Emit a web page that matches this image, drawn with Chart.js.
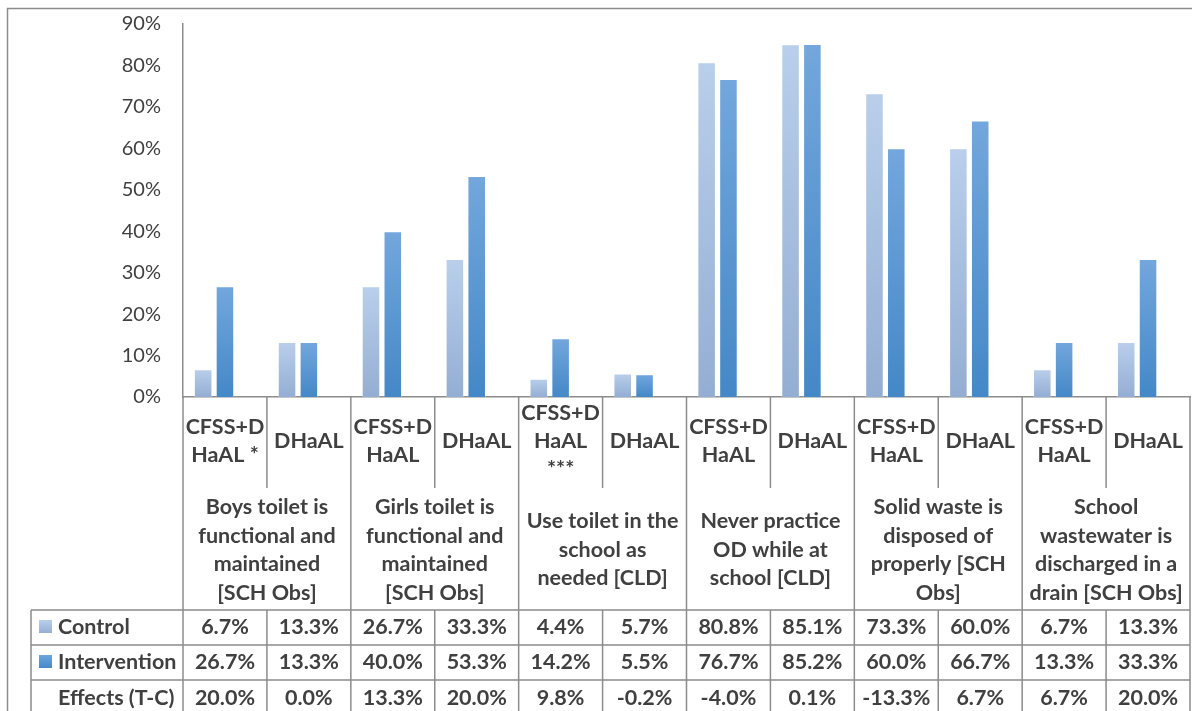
<!DOCTYPE html>
<html>
<head>
<meta charset="utf-8">
<script src="https://cdn.jsdelivr.net/npm/chart.js@4.4.0/dist/chart.umd.min.js"></script>
<style>
  html, body { margin: 0; padding: 0; background: #fff; }
</style>
</head>
<body>
<canvas id="barChart" width="1192" height="711"></canvas>
<script>
// sub categories (one per bar pair)
var subLabels = [
    ["CFSS+D", "HaAL *"], ["DHaAL"],
    ["CFSS+D", "HaAL"], ["DHaAL"],
    ["CFSS+D", "HaAL", "***"], ["DHaAL"],
    ["CFSS+D", "HaAL"], ["DHaAL"],
    ["CFSS+D", "HaAL"], ["DHaAL"],
    ["CFSS+D", "HaAL"], ["DHaAL"]
];
// outer categories (each spans two sub categories)
var groupLabels = [
    ["Boys toilet is", "functional and", "maintained", "[SCH Obs]"],
    ["Girls toilet is", "functional and", "maintained", "[SCH Obs]"],
    ["Use toilet in the", "school as", "needed [CLD]"],
    ["Never practice", "OD while at", "school [CLD]"],
    ["Solid waste is", "disposed of", "properly [SCH", "Obs]"],
    ["School", "wastewater is", "discharged in a", "drain [SCH Obs]"]
];
var seriesNames = ["Control", "Intervention", "Effects (T-C)"];
var control      = [6.7, 13.3, 26.7, 33.3, 4.4, 5.7, 80.8, 85.1, 73.3, 60.0, 6.7, 13.3];
var intervention = [26.7, 13.3, 40.0, 53.3, 14.2, 5.5, 76.7, 85.2, 60.0, 66.7, 13.3, 33.3];
var effects      = [20.0, 0.0, 13.3, 20.0, 9.8, -0.2, -4.0, 0.1, -13.3, 6.7, 6.7, 20.0];
var yMax = 90;
var yStep = 10;

var lineColor = "#8c8c8c";
var textColor = "#404040";
var boldFont = "bold 21.5px Lato";

var ctx = document.getElementById('barChart').getContext('2d');

// per-bar vertical gradient like the excel fill
function barFill(top, bottom) {
    return function(c) {
        var chart = c.chart;
        var y = chart.scales.y;
        if (!y || c.raw == null) return top;
        var yTop = y.getPixelForValue(c.raw);
        var yBase = y.getPixelForValue(0);
        if (!isFinite(yTop) || yTop === yBase) return top;
        var g = chart.ctx.createLinearGradient(0, yTop, 0, yBase);
        g.addColorStop(0, top);
        g.addColorStop(1, bottom);
        return g;
    };
}

function keyFill(c, x, y, s, top, bottom) {
    var g = c.createLinearGradient(0, y, 0, y + s);
    g.addColorStop(0, top);
    g.addColorStop(1, bottom);
    c.fillStyle = g;
    c.fillRect(x, y, s, s);
}

function drawLines(c, lines, cx, cy, lh) {
    var y0 = cy - (lines.length - 1) * lh / 2;
    for (var i = 0; i < lines.length; i++) {
        c.fillText(lines[i], cx, y0 + i * lh);
    }
}

// multi-level axis + data table under the plot
var tablePlugin = {
    id: 'dataTable',
    afterDraw: function(chart) {
        var c = chart.ctx;
        var area = chart.chartArea;
        var n = control.length;
        var w = (area.right - area.left) / n;
        var base = area.bottom;
        var subBottom = 488;
        var rows = [610, 645, 680, 716];
        var tableLeft = 31;

        c.save();
        c.strokeStyle = lineColor;
        c.lineWidth = 1.5;

        // outer frame
        c.strokeRect(7.5, 8.5, 1200, 720);

        // vertical dividers
        for (var i = 0; i <= n; i++) {
            var x = area.left + i * w;
            c.beginPath();
            if (i % 2 === 0) {
                c.moveTo(x, base);
                c.lineTo(x, rows[3]);
            } else {
                c.moveTo(x, base);
                c.lineTo(x, subBottom);
                c.moveTo(x, rows[0]);
                c.lineTo(x, rows[3]);
            }
            c.stroke();
        }
        // table grid
        c.beginPath();
        c.moveTo(tableLeft, rows[0]);
        c.lineTo(tableLeft, rows[3]);
        for (var r = 0; r < 3; r++) {
            c.moveTo(tableLeft, rows[r]);
            c.lineTo(area.right, rows[r]);
        }
        c.stroke();

        c.fillStyle = textColor;
        c.font = boldFont;
        c.textAlign = 'center';
        c.textBaseline = 'middle';

        // sub labels
        for (var i = 0; i < n; i++) {
            var cx = chart.scales.x.getPixelForValue(i);
            drawLines(c, subLabels[i], cx, 441, 28);
        }
        // group labels
        for (var g = 0; g < groupLabels.length; g++) {
            var gx = area.left + (2 * g + 1) * w;
            drawLines(c, groupLabels[g], gx, 550, 28.5);
        }

        // table rows
        var rowData = [control, intervention, effects];
        for (var r = 0; r < 3; r++) {
            var cy = (rows[r] + rows[r + 1]) / 2;
            c.textAlign = 'left';
            c.fillStyle = textColor;
            c.fillText(seriesNames[r], 58, cy);
            c.textAlign = 'center';
            for (var i = 0; i < n; i++) {
                var cx = chart.scales.x.getPixelForValue(i);
                c.fillText(rowData[r][i].toFixed(1) + '%', cx, cy);
            }
        }
        // legend keys
        keyFill(c, 39, 620, 13, "#b9cfeb", "#95afd4");
        keyFill(c, 39, 655, 13, "#6fa5dd", "#4589c8");

        c.restore();
    }
};

var barData = {
    labels: subLabels,
    datasets: [
        {
            label: seriesNames[0],
            data: control,
            backgroundColor: barFill("#b9cfeb", "#94aed3"),
            borderColor: "rgba(255,255,255,0.35)",
            borderWidth: 1
        },
        {
            label: seriesNames[1],
            data: intervention,
            backgroundColor: barFill("#73a7dd", "#4488c7"),
            borderColor: "rgba(255,255,255,0.35)",
            borderWidth: 1
        },
        {
            // effects only lives in the table, bar has no fill
            label: seriesNames[2],
            data: effects,
            backgroundColor: "rgba(0,0,0,0)",
            borderWidth: 0
        }
    ]
};

var barOptions = {
    responsive: false,
    devicePixelRatio: 1,
    animation: false,
    categoryPercentage: 0.78,
    barPercentage: 0.85,
    layout: { padding: { left: 0, right: 2, top: 24, bottom: 314 } },
    plugins: {
        legend: { display: false },
        tooltip: { enabled: false }
    },
    scales: {
        x: {
            grid: { display: false, drawTicks: false },
            ticks: { display: false },
            border: { display: true, color: lineColor, width: 1.5 }
        },
        y: {
            min: 0,
            max: yMax,
            grid: { display: false, drawTicks: false },
            border: { display: true, color: lineColor, width: 1.5 },
            ticks: {
                stepSize: yStep,
                padding: 22,
                color: textColor,
                font: { family: 'Lato', size: 20 },
                callback: function(v) { return v + '%'; }
            },
            afterFit: function(scale) {
                scale.width = 183;
                scale.paddingTop = 0;
                scale.paddingBottom = 0;
            }
        }
    }
};

new Chart(ctx, { type: 'bar', data: barData, options: barOptions, plugins: [tablePlugin] });
</script>
</body>
</html>
